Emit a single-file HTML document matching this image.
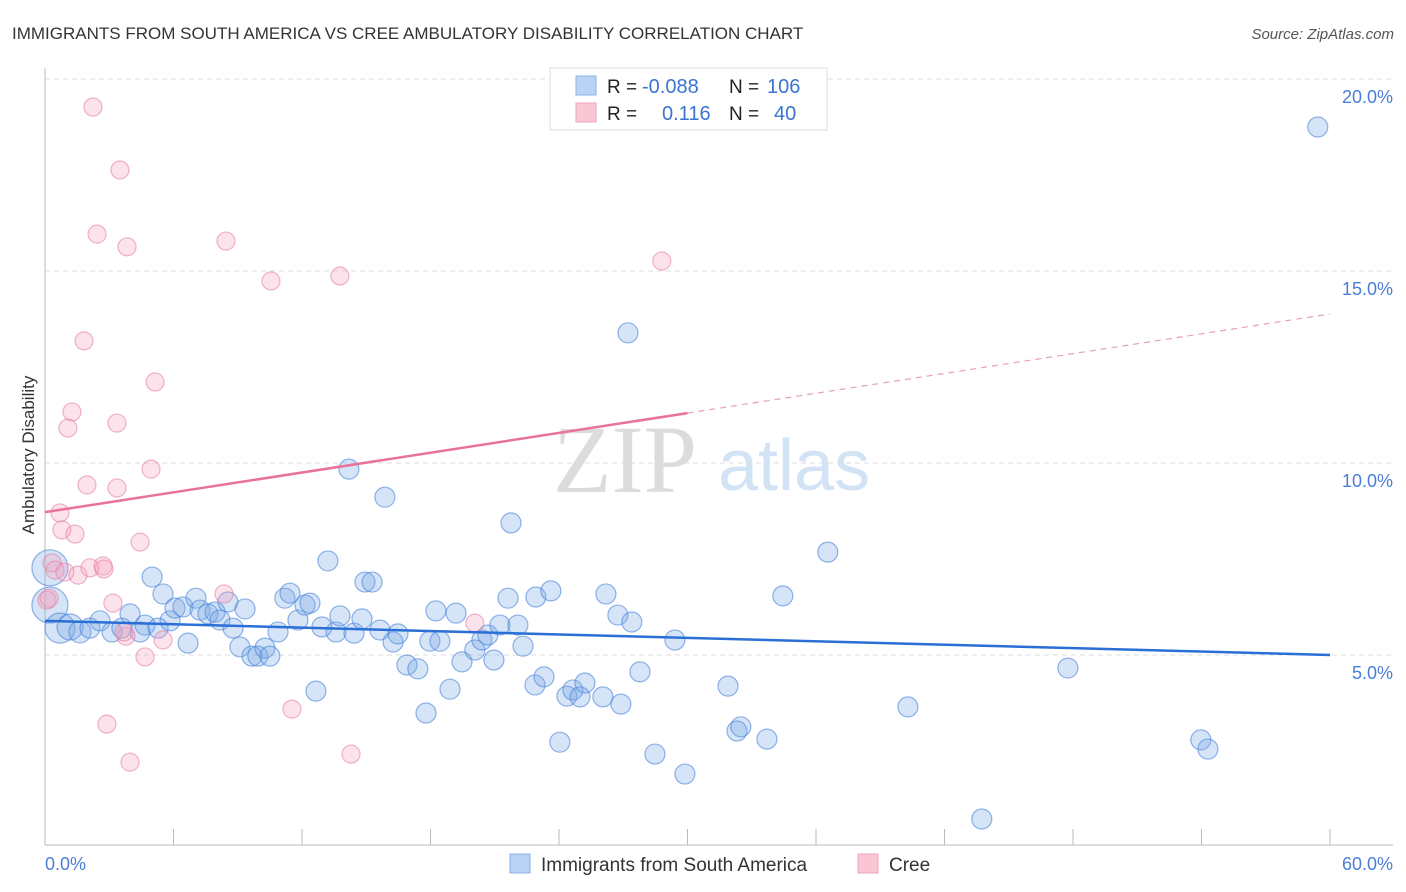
<!DOCTYPE html>
<html><head><meta charset="utf-8"><style>
body{margin:0;background:#fff;font-family:"Liberation Sans",sans-serif;}
svg{display:block}
</style></head><body>
<svg id="chart" width="1406" height="892" xmlns="http://www.w3.org/2000/svg">
<text x="12" y="39" font-size="17" fill="#333">IMMIGRANTS FROM SOUTH AMERICA VS CREE AMBULATORY DISABILITY CORRELATION CHART</text>
<text x="1394" y="39" font-size="15" fill="#555" font-style="italic" text-anchor="end">Source: ZipAtlas.com</text>
<g>
<text x="553" y="492" font-family="Liberation Serif,serif" font-size="96" fill="#dcdcdc">ZIP</text>
<text x="718" y="490" font-size="72" fill="#d3e3f6">atlas</text>
</g>
<g id="grid"></g>
<g id="axes"></g>
<g id="pts"></g>
<g id="trends"></g>
<text x="34" y="455" font-size="17" fill="#333" text-anchor="middle" transform="rotate(-90 34 455)">Ambulatory Disability</text>
<text x="45" y="870" font-size="18" fill="#4a7fd6">0.0%</text>
<text x="1393" y="870" font-size="18" fill="#4a7fd6" text-anchor="end">60.0%</text>
<g>
<rect x="550" y="68" width="277" height="62" fill="#fff" stroke="#ddd"/>
<rect x="576" y="76" width="20" height="19" fill="#b9d3f5" stroke="#8cb3e8"/>
<rect x="576" y="103" width="20" height="19" fill="#f9c6d5" stroke="#eda4bb"/>
<text x="607" y="93" font-size="19" fill="#222">R =</text>
<text x="642" y="93" font-size="20" fill="#3a75d0">-0.088</text>
<text x="729" y="93" font-size="19" fill="#222">N =</text>
<text x="767" y="93" font-size="20" fill="#3a75d0">106</text>
<text x="607" y="120" font-size="19" fill="#222">R =</text>
<text x="662" y="120" font-size="20" fill="#3a75d0">0.116</text>
<text x="729" y="120" font-size="19" fill="#222">N =</text>
<text x="774" y="120" font-size="20" fill="#3a75d0">40</text>
</g>
<g>
<rect x="510" y="854" width="20" height="19" fill="#b9d3f5" stroke="#8cb3e8"/>
<text x="541" y="871" font-size="19" fill="#333">Immigrants from South America</text>
<rect x="858" y="854" width="20" height="19" fill="#f9c6d5" stroke="#eda4bb"/>
<text x="889" y="871" font-size="19" fill="#333">Cree</text>
</g>
</svg>
<script>
const yTicks=[5,10,15,20];
const yTickLabels=["5.0%","10.0%","15.0%","20.0%"];
const xTicks=[6,12,18,24,30,36,42,48,54,60];
const blueX=[0.23,0.23,0.7,1.17,1.63,2.1,2.57,3.13,3.59,3.97,4.44,4.67,5.0,5.28,5.51,5.84,6.07,6.44,6.68,7.05,7.24,7.61,7.94,8.17,8.54,8.78,9.1,9.34,9.66,9.94,10.27,10.5,10.88,11.2,11.44,11.81,12.14,12.37,12.65,12.93,13.21,13.59,13.77,14.19,14.43,14.8,14.94,15.27,15.64,15.87,16.25,16.48,16.9,17.41,17.79,17.97,18.25,18.44,18.91,19.19,19.47,20.07,20.4,20.68,20.96,21.24,21.62,21.76,22.08,22.32,22.92,22.88,23.3,23.62,24.04,24.37,24.65,24.98,25.21,26.05,26.19,26.75,26.89,27.4,27.78,28.48,29.41,29.88,31.89,32.31,32.49,33.71,34.45,36.55,40.29,43.74,47.76,53.97,54.3,59.43,27.22];
const blueY=[7.27,6.3,5.7,5.73,5.6,5.7,5.89,5.6,5.7,6.07,5.6,5.78,7.03,5.7,6.59,5.89,6.22,6.25,5.31,6.48,6.17,6.07,6.12,5.91,6.38,5.7,5.21,6.2,4.97,4.97,5.18,4.97,5.6,6.48,6.61,5.91,6.3,6.35,4.06,5.73,7.45,5.6,6.02,9.84,5.57,5.94,6.9,6.9,5.65,9.11,5.34,5.55,4.74,4.64,3.49,5.36,6.15,5.36,4.11,6.09,4.82,5.13,5.39,5.52,4.87,5.78,6.48,8.44,5.78,5.23,6.51,4.22,4.43,6.67,2.73,3.93,4.09,3.91,4.27,3.91,6.59,6.04,3.72,5.86,4.56,2.42,5.39,1.9,4.19,3.02,3.13,2.81,6.54,7.68,3.65,0.73,4.66,2.79,2.55,18.75,13.39];
const blueSize=[18,18,15,13,11,10];
const pinkX=[2.24,3.5,2.43,3.83,8.45,10.55,13.77,28.8,1.82,5.14,1.26,1.07,3.36,4.95,1.96,3.36,0.7,0.79,1.4,4.44,0.33,0.47,0.93,1.54,2.1,2.71,2.75,8.36,3.17,0.09,3.78,5.51,4.67,20.07,2.89,11.53,3.97,14.29,3.69,0.19];
const pinkY=[19.27,17.63,15.96,15.63,15.78,14.74,14.87,15.26,13.18,12.11,11.33,10.91,11.04,9.84,9.43,9.35,8.7,8.26,8.15,7.94,7.4,7.21,7.16,7.08,7.27,7.32,7.24,6.59,6.35,6.43,5.49,5.39,4.95,5.83,3.2,3.59,2.21,2.42,5.6,6.48];
const blueTrend=[5.89,5.0];
const pinkTrend=[8.72,13.88];
const X0=45,X1=1330,Y0=847,PXY=38.4;
const sx=v=>X0+v/60*(X1-X0);
const sy=v=>Y0-v*PXY;
const NS="http://www.w3.org/2000/svg";
function mk(tag,parent,attrs){const e=document.createElementNS(NS,tag);for(const k in attrs)e.setAttribute(k,attrs[k]);parent.appendChild(e);return e;}
const grid=document.getElementById('grid');
yTicks.forEach((t,i)=>{
  const l=mk('line',grid,{x1:45,x2:1393,y1:sy(t),y2:sy(t),stroke:'#ddd','stroke-dasharray':'5,4'});
  
  
  const tx=mk('text',grid,{x:1393,y:sy(t)+24,'font-size':18,fill:'#4a7fd6','text-anchor':'end'});
  tx.textContent=yTickLabels[i];
  
  
});
const axes=document.getElementById('axes');
const ya=mk('line',axes,{x1:45,x2:45,y1:68,y2:845,stroke:'#bbb'});


const xa=mk('line',axes,{x1:45,x2:1393,y1:845,y2:845,stroke:'#bbb'});


xTicks.forEach(v=>{
  const t=mk('line',axes,{x1:sx(v),x2:sx(v),y1:829,y2:845,stroke:'#bbb'});
  
  
});
const pts=document.getElementById('pts');
blueX.forEach((x,i)=>{
  const c=mk('circle',pts,{cx:sx(x),cy:sy(blueY[i]),r:blueSize[i]||10,fill:'rgba(120,165,230,0.3)',stroke:'rgba(70,130,220,0.6)','stroke-width':1.2});
  
  
});
pinkX.forEach((x,i)=>{
  const c=mk('circle',pts,{cx:sx(x),cy:sy(pinkY[i]),r:9,fill:'rgba(245,160,190,0.3)',stroke:'rgba(230,130,165,0.6)','stroke-width':1.2});
  
  
});
const tr=document.getElementById('trends');
const bl=mk('line',tr,{x1:sx(0),y1:sy(blueTrend[0]),x2:sx(60),y2:sy(blueTrend[1]),stroke:'#2a6fd6','stroke-width':2.5});


const pm=pinkTrend[0]+(pinkTrend[1]-pinkTrend[0])*0.5;
const ps=mk('line',tr,{x1:sx(0),y1:sy(pinkTrend[0]),x2:sx(30),y2:sy(pm),stroke:'#e8729a','stroke-width':2.5});


const pd=mk('line',tr,{x1:sx(30),y1:sy(pm),x2:sx(60),y2:sy(pinkTrend[1]),stroke:'#e8a0b8','stroke-width':1.2,'stroke-dasharray':'6,5'});


</script>
</body></html>
